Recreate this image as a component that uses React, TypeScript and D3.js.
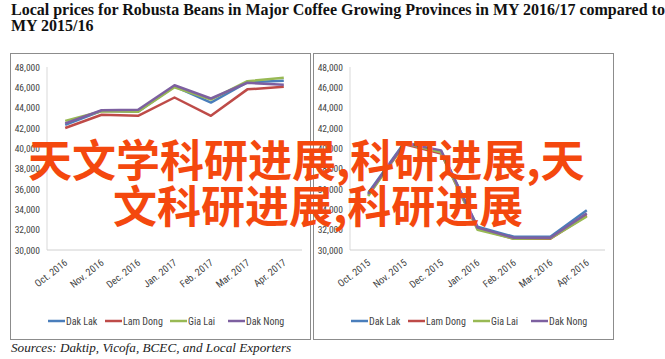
import React, { useEffect, useRef } from "react";
import * as d3 from "d3";

// categories
const months1617 = ["Oct. 2016", "Nov. 2016", "Dec. 2016", "Jan. 2017", "Feb. 2017", "Mar. 2017", "Apr. 2017"];
const months1516 = ["Oct. 2015", "Nov. 2015", "Dec. 2015", "Jan. 2016", "Feb. 2016", "Mar. 2016", "Apr. 2016"];

const provinces = ["Dak Lak", "Lam Dong", "Gia Lai", "Dak Nong"];
const colors = ["#4a7ebb", "#be4b48", "#98b954", "#7d60a0"];

// MY 2016/17 prices (VND/kg)
const dakLak1617 = [42300, 43700, 43600, 46100, 44500, 46500, 46650];
const lamDong1617 = [42000, 43300, 43200, 45000, 43200, 45800, 46050];
const giaLai1617 = [42700, 43650, 43600, 46000, 44800, 46600, 46950];
const dakNong1617 = [42450, 43750, 43800, 46200, 44900, 46450, 46250];

// MY 2015/16 prices (VND/kg)
const dakLak1516 = [35600, 40600, 39700, 32300, 31300, 31300, 33900];
const lamDong1516 = [35400, 40400, 39500, 32100, 31100, 31100, 33400];
const giaLai1516 = [35300, 40500, 39600, 32000, 31100, 31150, 33300];
const dakNong1516 = [35500, 40500, 39800, 32200, 31200, 31200, 33600];

const yTicks = [30000, 32000, 34000, 36000, 38000, 40000, 42000, 44000, 46000, 48000];

const titleLines = [
  "Local prices for Robusta Beans in Major Coffee Growing Provinces in MY 2016/17 compared to",
  "MY 2015/16",
];
const sourceText = "Sources: Daktip, Vicofa, BCEC, and Local Exporters";
const overlayLines = ["天文学科研进展,科研进展,天", "文科研进展,科研进展"];

const narrow = "'Liberation Sans Narrow', 'Arial Narrow', 'Roboto Condensed', 'Noto Sans', sans-serif";

const App = () => {
  const svgRef = useRef<SVGSVGElement>(null);

  useEffect(() => {
    const svg = d3.select(svgRef.current);
    svg.selectAll("*").remove();

    svg.append("rect").attr("width", 665).attr("height", 359).attr("fill", "#fff");

    // title
    svg
      .append("g")
      .selectAll("text")
      .data(titleLines)
      .enter()
      .append("text")
      .attr("x", 11)
      .attr("y", (d, i) => 15 + i * 16)
      .attr("font-family", "'Liberation Serif', 'DejaVu Serif', serif")
      .attr("font-weight", "bold")
      .attr("font-size", 16)
      .attr("fill", "#111")
      .text((d) => d);

    const drawPanel = (x0: number, labels: string[], series: number[][]) => {
      const g = svg.append("g").attr("transform", `translate(${x0},0)`);

      // panel frame
      g.append("rect")
        .attr("x", 0.5)
        .attr("y", 53.5)
        .attr("width", 300)
        .attr("height", 286)
        .attr("fill", "#fff")
        .attr("stroke", "#8c8c8c");

      const x = d3.scaleBand().domain(labels).range([37, 292]);
      const y = d3.scaleLinear().domain([30000, 48000]).range([250, 67]);

      // y axis line + bottom gridline
      g.append("line")
        .attr("x1", 37)
        .attr("x2", 37)
        .attr("y1", y(48000))
        .attr("y2", y(30000))
        .attr("stroke", "#d9d9d9");
      g.append("line")
        .attr("x1", 37)
        .attr("x2", 292)
        .attr("y1", y(30000))
        .attr("y2", y(30000))
        .attr("stroke", "#d0d0d0");

      // y tick labels
      g.append("g")
        .selectAll("text")
        .data(yTicks)
        .enter()
        .append("text")
        .attr("x", 30)
        .attr("y", (d) => y(d) + 3.5)
        .attr("text-anchor", "end")
        .attr("font-family", narrow)
        .attr("font-size", 9.5)
        .attr("fill", "#444")
        .text((d) => d3.format(",")(d));

      // x labels, rotated
      g.append("g")
        .selectAll("text")
        .data(labels)
        .enter()
        .append("text")
        .attr("transform", (d) => `translate(${x(d)! + x.bandwidth() / 2 + 3},${y(30000) + 14}) rotate(-38)`)
        .attr("text-anchor", "end")
        .attr("font-family", narrow)
        .attr("font-size", 10)
        .attr("fill", "#444")
        .text((d) => d);

      // lines
      const line = d3
        .line<number>()
        .x((d, i) => x(labels[i])! + x.bandwidth() / 2)
        .y((d) => y(d));

      g.append("g")
        .selectAll("path")
        .data(series)
        .enter()
        .append("path")
        .attr("d", (d) => line(d))
        .attr("fill", "none")
        .attr("stroke", (d, i) => colors[i])
        .attr("stroke-width", 2.5)
        .attr("stroke-linejoin", "round");

      // legend
      const legendX = [38, 95, 160, 218];
      const lg = g
        .append("g")
        .selectAll("g")
        .data(provinces)
        .enter()
        .append("g")
        .attr("transform", (d, i) => `translate(${legendX[i]},321)`);
      lg.append("line")
        .attr("x1", 0)
        .attr("x2", 17)
        .attr("stroke", (d, i) => colors[i])
        .attr("stroke-width", 2.5);
      lg.append("text")
        .attr("x", 18)
        .attr("y", 3.5)
        .attr("font-family", narrow)
        .attr("font-size", 10)
        .attr("fill", "#444")
        .text((d) => d);
    };

    drawPanel(10, months1617, [dakLak1617, lamDong1617, giaLai1617, dakNong1617]);
    drawPanel(313, months1516, [dakLak1516, lamDong1516, giaLai1516, dakNong1516]);

    // source note
    svg
      .append("text")
      .attr("x", 11)
      .attr("y", 352)
      .attr("font-family", "'Liberation Serif', serif")
      .attr("font-style", "italic")
      .attr("font-size", 13.2)
      .attr("fill", "#222")
      .text(sourceText);

    // overlay text
    svg
      .append("g")
      .selectAll("text")
      .data(overlayLines)
      .enter()
      .append("text")
      .attr("x", (d, i) => (i === 0 ? 28 : 113))
      .attr("y", (d, i) => (i === 0 ? 177 : 223))
      .attr("font-family", "'Noto Sans CJK SC', sans-serif")
      .attr("font-weight", "bold")
      .attr("font-size", 44)
      .attr("fill", "#f4480e")
      .text((d) => d);
  }, []);

  return (
    <svg
      ref={svgRef}
      width={665}
      height={359}
      style={{ position: "absolute", left: 0, top: 0 }}
    ></svg>
  );
};

export default App;
